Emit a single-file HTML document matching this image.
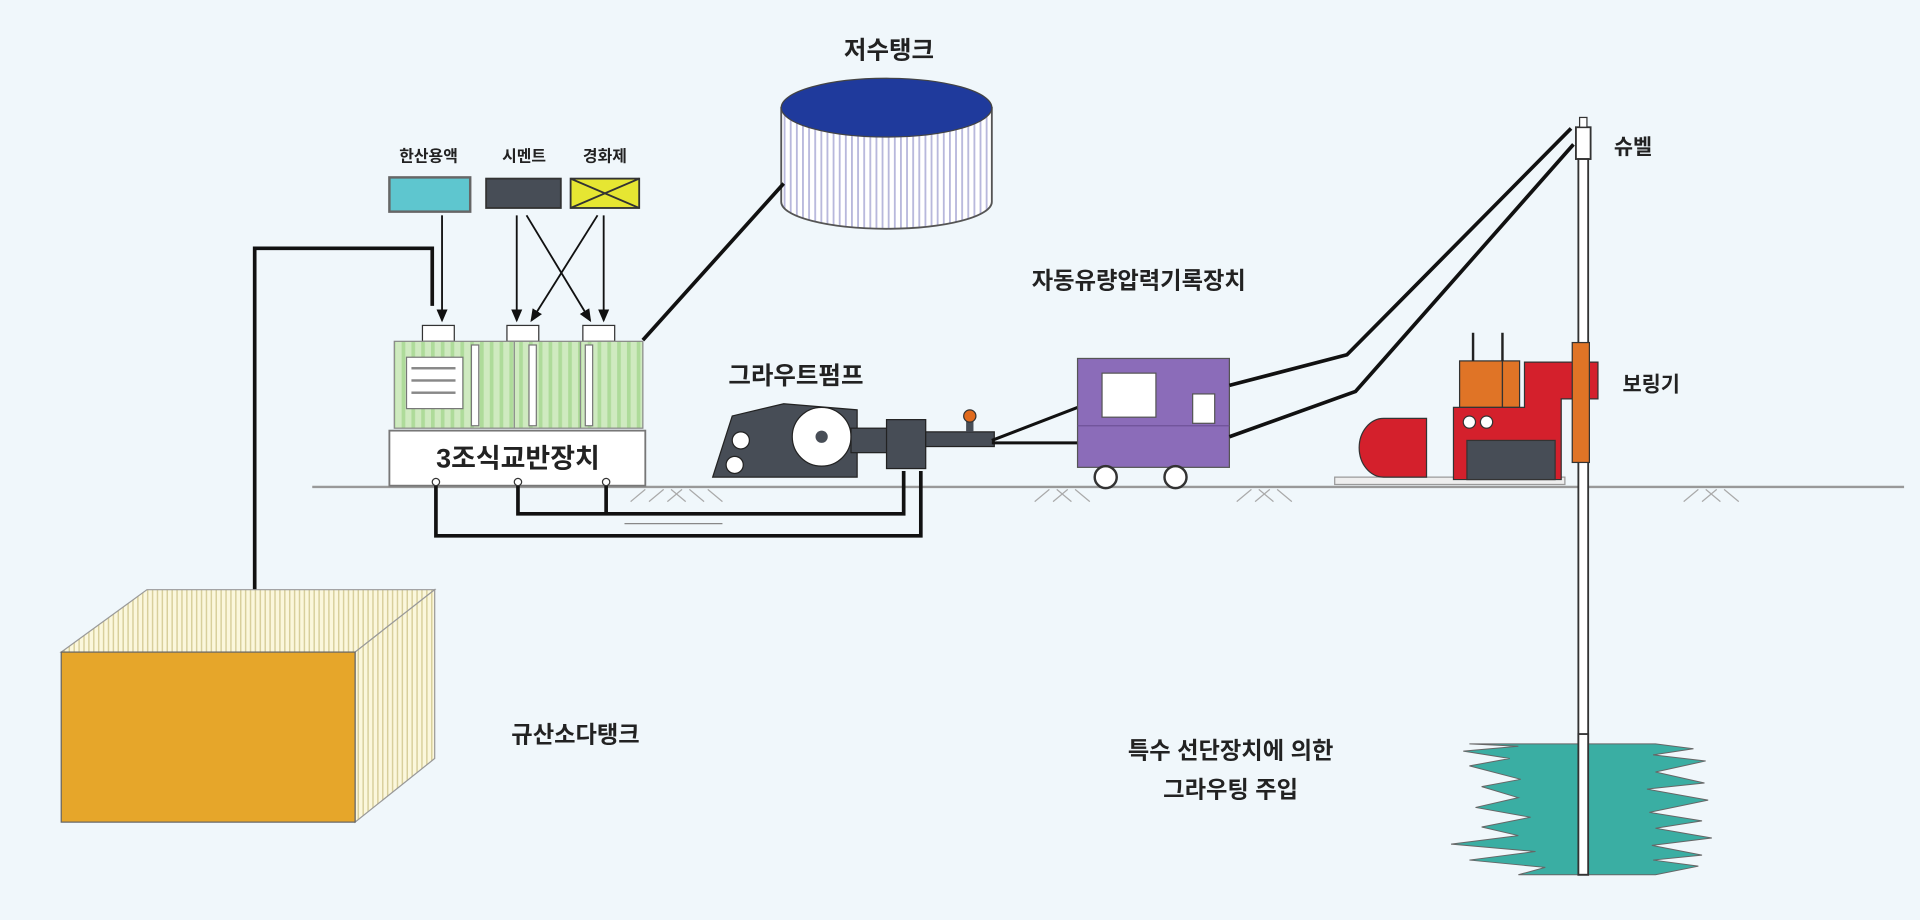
<!DOCTYPE html>
<html><head><meta charset="utf-8"><style>
html,body{margin:0;padding:0;background:#f0f7fb;}
svg{display:block}
text{font-family:"Liberation Sans","Noto Sans CJK KR","NanumGothic",sans-serif;font-weight:bold;fill:#222}
</style></head><body>
<svg width="1920" height="920" viewBox="0 0 1568 752" preserveAspectRatio="none" xmlns="http://www.w3.org/2000/svg">
<defs>
<pattern id="vs" width="5" height="10" patternUnits="userSpaceOnUse"><rect width="5" height="10" fill="#fff"/><rect width="1.5" height="10" fill="#b8b8dc"/></pattern>
<pattern id="gs" width="8" height="10" patternUnits="userSpaceOnUse"><rect width="8" height="10" fill="#cfeac0"/><rect width="3" height="10" fill="#aedb9a"/></pattern>
<pattern id="ys" width="4" height="10" patternUnits="userSpaceOnUse"><rect width="4" height="10" fill="#fbf7dc"/><rect width="1.2" height="10" fill="#d8cf9c"/></pattern>
<marker id="ar" markerWidth="8" markerHeight="8" refX="6" refY="4" orient="auto"><path d="M0,1 L7,4 L0,7 z" fill="#111"/></marker>
</defs>
<rect width="1568" height="752" fill="#f0f7fb"/>

<!-- ground -->
<line x1="255" y1="398" x2="1555" y2="398" stroke="#999" stroke-width="2"/>
<g stroke="#aaa" stroke-width="1">
<path d="M515,410 l12,-10 M530,410 l12,-10 M545,410 l12,-10 M560,410 l-12,-10 M575,410 l-12,-10 M590,410 l-12,-10"/>
<path d="M845,410 l12,-10 M860,410 l12,-10 M875,410 l-12,-10 M890,410 l-12,-10"/>
<path d="M1010,410 l12,-10 M1025,410 l12,-10 M1040,410 l-12,-10 M1055,410 l-12,-10"/>
<path d="M1375,410 l12,-10 M1390,410 l12,-10 M1405,410 l-12,-10 M1420,410 l-12,-10"/>
</g>

<!-- tank -->
<text x="726" y="48" font-size="20" text-anchor="middle">저수탱크</text>
<path d="M638,88 L638,165 A86,22 0 0 0 810,165 L810,88 Z" fill="url(#vs)" stroke="#555" stroke-width="1.5"/>
<ellipse cx="724" cy="88" rx="86" ry="24" fill="#1f3a9c" stroke="#444"/>
<line x1="525" y1="278" x2="640" y2="150" stroke="#111" stroke-width="3"/>

<!-- material boxes -->
<text x="350" y="132" font-size="13" text-anchor="middle">한산용액</text>
<text x="428" y="132" font-size="13" text-anchor="middle">시멘트</text>
<text x="494" y="132" font-size="13" text-anchor="middle">경화제</text>
<rect x="318" y="145" width="66" height="28" fill="#5ec6cf" stroke="#666" stroke-width="2"/>
<rect x="397" y="146" width="61" height="24" fill="#474d56" stroke="#333" stroke-width="1.5"/>
<rect x="466" y="146" width="56" height="24" fill="#e6e632" stroke="#333" stroke-width="1.5"/>
<path d="M466,146 L522,170 M522,146 L466,170" stroke="#333" stroke-width="1.5"/>

<!-- feed lines -->
<path d="M208,482 L208,203 L353,203 L353,250" fill="none" stroke="#111" stroke-width="3"/>
<g stroke="#111" stroke-width="1.5" fill="none" marker-end="url(#ar)">
<line x1="422" y1="176" x2="422" y2="262"/>
<line x1="488" y1="176" x2="434" y2="262"/>
<line x1="430" y1="176" x2="482" y2="262"/>
<line x1="493" y1="176" x2="493" y2="262"/>
<line x1="361" y1="176" x2="361" y2="262"/>
</g>

<!-- mixer -->
<rect x="345" y="266" width="26" height="13" fill="#fff" stroke="#333"/>
<rect x="414" y="266" width="26" height="13" fill="#fff" stroke="#333"/>
<rect x="476" y="266" width="26" height="13" fill="#fff" stroke="#333"/>
<rect x="322" y="279" width="203" height="71" fill="url(#gs)" stroke="#888"/>
<rect x="332" y="292" width="46" height="42" fill="#fff" stroke="#777"/>
<g fill="#888"><rect x="336" y="300" width="36" height="2"/><rect x="336" y="310" width="36" height="2"/><rect x="336" y="320" width="36" height="2"/></g>
<rect x="385" y="282" width="6" height="66" fill="#fff" stroke="#777"/>
<rect x="432" y="282" width="6" height="66" fill="#fff" stroke="#777"/>
<rect x="478" y="282" width="6" height="66" fill="#fff" stroke="#777"/>
<line x1="420" y1="279" x2="420" y2="350" stroke="#888"/>
<line x1="474" y1="279" x2="474" y2="350" stroke="#888"/>
<rect x="318" y="352" width="209" height="45" fill="#fff" stroke="#777" stroke-width="1.5"/>
<text x="423" y="382" font-size="22" text-anchor="middle">3조식교반장치</text>

<!-- bottom pipes -->
<path d="M356,394 L356,438 L752,438 L752,385" fill="none" stroke="#111" stroke-width="3"/>
<path d="M423,394 L423,420 L738,420 L738,385" fill="none" stroke="#111" stroke-width="3"/>
<path d="M495,394 L495,420" fill="none" stroke="#111" stroke-width="3"/>
<circle cx="356" cy="394" r="3" fill="#fff" stroke="#333"/>
<circle cx="423" cy="394" r="3" fill="#fff" stroke="#333"/>
<circle cx="495" cy="394" r="3" fill="#fff" stroke="#333"/>
<line x1="510" y1="428" x2="590" y2="428" stroke="#888"/>

<!-- pump -->
<text x="650" y="314" font-size="20" text-anchor="middle">그라우트펌프</text>
<path d="M582,390 L598,340 L640,330 L700,335 L700,390 Z" fill="#474d56" stroke="#222"/>
<circle cx="605" cy="360" r="7" fill="#fff" stroke="#222"/>
<circle cx="600" cy="380" r="7" fill="#fff" stroke="#222"/>
<circle cx="671" cy="357" r="24" fill="#fff" stroke="#222"/>
<circle cx="671" cy="357" r="5" fill="#474d56"/>
<rect x="695" y="350" width="30" height="20" fill="#474d56" stroke="#222"/>
<rect x="724" y="343" width="32" height="40" fill="#474d56" stroke="#222"/>
<rect x="756" y="353" width="56" height="12" fill="#474d56" stroke="#222"/>
<rect x="789" y="343" width="6" height="10" fill="#474d56"/>
<circle cx="792" cy="340" r="5" fill="#e06a1d" stroke="#333"/>
<line x1="810" y1="360" x2="880" y2="333" stroke="#111" stroke-width="2.5"/>
<line x1="810" y1="362" x2="880" y2="362" stroke="#111" stroke-width="2.5"/>

<!-- recorder -->
<text x="930" y="236" font-size="19" text-anchor="middle">자동유량압력기록장치</text>
<rect x="880" y="293" width="124" height="89" fill="#8b6cb9" stroke="#555"/>
<line x1="880" y1="348" x2="1004" y2="348" stroke="#6e5299"/>
<rect x="900" y="305" width="44" height="36" fill="#fff" stroke="#555"/>
<rect x="974" y="322" width="18" height="24" fill="#fff" stroke="#555"/>
<circle cx="903" cy="390" r="9" fill="#fff" stroke="#333" stroke-width="2"/>
<circle cx="960" cy="390" r="9" fill="#fff" stroke="#333" stroke-width="2"/>
<path d="M1004,315 L1100,290 L1283,105" fill="none" stroke="#111" stroke-width="3"/>
<path d="M1004,357 L1107,320 L1285,118" fill="none" stroke="#111" stroke-width="3"/>

<!-- swivel & rod -->
<text x="1318" y="126" font-size="17">슈벨</text>
<rect x="1287" y="104" width="12" height="26" fill="#fff" stroke="#333" stroke-width="1.5"/>
<rect x="1290" y="96" width="6" height="8" fill="#fff" stroke="#333"/>
<rect x="1289" y="130" width="8" height="585" fill="#fff" stroke="#333" stroke-width="1.5"/>

<!-- boring machine -->
<text x="1325" y="320" font-size="17">보링기</text>
<rect x="1090" y="390" width="188" height="6" fill="#eee" stroke="#999"/>
<path d="M1165,342 L1165,390 L1130,390 A20,24 0 0 1 1130,342 Z" fill="#d4202c" stroke="#333"/>
<rect x="1192" y="295" width="35" height="38" fill="#e07426" stroke="#333"/>
<rect x="1227" y="295" width="14" height="38" fill="#e07426" stroke="#333"/>
<line x1="1203" y1="272" x2="1203" y2="295" stroke="#222" stroke-width="2"/>
<line x1="1227" y1="272" x2="1227" y2="295" stroke="#222" stroke-width="2"/>
<path d="M1187,333 L1245,333 L1245,296 L1305,296 L1305,326 L1275,326 L1275,392 L1187,392 Z" fill="#d4202c" stroke="#333"/>
<circle cx="1200" cy="345" r="5" fill="#fff" stroke="#333"/>
<circle cx="1214" cy="345" r="5" fill="#fff" stroke="#333"/>
<rect x="1198" y="360" width="72" height="32" fill="#474d56" stroke="#333"/>
<rect x="1284" y="280" width="14" height="98" fill="#e07426" stroke="#333"/>

<!-- sodium silicate tank -->
<path d="M50,533 L120,482 L355,482 L290,533 Z" fill="url(#ys)" stroke="#999"/>
<path d="M290,533 L355,482 L355,620 L290,672 Z" fill="url(#ys)" stroke="#999"/>
<rect x="50" y="533" width="240" height="139" fill="#e6a62a" stroke="#666"/>
<text x="470" y="607" font-size="19" text-anchor="middle">규산소다탱크</text>

<!-- grout -->
<text x="1005" y="620" font-size="19" text-anchor="middle">특수 선단장치에 의한</text>
<text x="1005" y="652" font-size="19" text-anchor="middle">그라우팅 주입</text>
<polygon fill="#3aaea3" stroke="#666" stroke-width="0.8" points="1200,608 1352,608 1383,612 1350,617 1393,622 1352,631 1392,640 1345,645 1395,654 1347,664 1390,671 1352,677 1398,685 1349,691 1390,699 1350,703 1387,708 1352,715 1240,715 1262,709 1200,703 1254,696 1185,690 1240,683 1210,676 1250,668 1205,660 1240,652 1210,643 1242,637 1200,626 1233,620 1195,614 1240,610"/>
<rect x="1289" y="600" width="8" height="115" fill="#fff" stroke="#333" stroke-width="1.5"/>
</svg>
</body></html>
